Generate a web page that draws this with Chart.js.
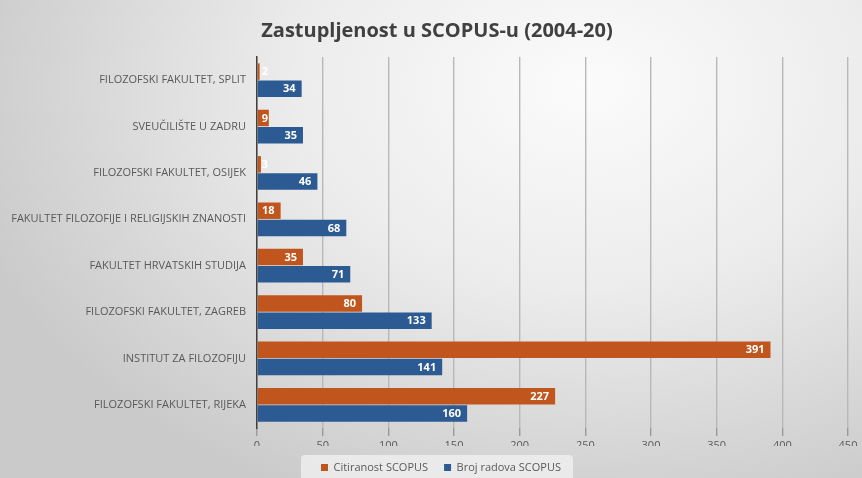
<!DOCTYPE html>
<html>
<head>
<meta charset="utf-8">
<script src="https://cdn.jsdelivr.net/npm/chart.js@4"></script>
<style>
html,body{margin:0;padding:0;}
body{width:862px;height:478px;overflow:hidden;
background:radial-gradient(ellipse 75% 95% at 68% 18%, #fbfbfb 0%, #ececec 45%, #d6d6d6 80%, #cacaca 100%);}
#wrap{position:absolute;left:0;top:0;width:862px;height:478px;}
</style>
</head>
<body>
<div id="wrap"><canvas id="c" width="862" height="478"></canvas></div>
<script>
const categories = [
  "FILOZOFSKI FAKULTET, SPLIT",
  "SVEUČILIŠTE U ZADRU",
  "FILOZOFSKI FAKULTET, OSIJEK",
  "FAKULTET FILOZOFIJE I RELIGIJSKIH ZNANOSTI",
  "FAKULTET HRVATSKIH STUDIJA",
  "FILOZOFSKI FAKULTET, ZAGREB",
  "INSTITUT ZA FILOZOFIJU",
  "FILOZOFSKI FAKULTET, RIJEKA"
];
const citiranost = [2, 9, 3, 18, 35, 80, 391, 227];
const brojRadova = [34, 35, 46, 68, 71, 133, 141, 160];
const seriesNames = ["Citiranost SCOPUS", "Broj radova SCOPUS"];
const xTicks = [0, 50, 100, 150, 200, 250, 300, 350, 400, 450];
const titleText = "Zastupljenost u SCOPUS-u (2004-20)";

const FONT = "'Open Sans', 'Noto Sans', sans-serif";

const labelPlugin = {
  id: 'barLabels',
  afterDatasetsDraw(chart) {
    const ctx = chart.ctx;
    ctx.save();
    ctx.font = "bold 11px " + FONT;
    ctx.fillStyle = "#ffffff";
    ctx.textBaseline = "middle";
    ctx.textAlign = "right";
    chart.data.datasets.forEach((ds, di) => {
      const meta = chart.getDatasetMeta(di);
      meta.data.forEach((bar, i) => {
        const txt = String(ds.data[i]);
        const w = ctx.measureText(txt).width;
        const x = Math.max(bar.x - 6, bar.base + 4 + w);
        ctx.fillText(txt, x, bar.y + 0.5);
      });
    });
    ctx.restore();
  }
};

const LEGEND_SHIFT = 17;
const TITLE_SHIFT = 13;

const shiftPlugin = {
  id: 'shiftBoxes',
  afterLayout(chart) {
    const l = chart.legend;
    if (l) {
      l.left += 2 * LEGEND_SHIFT;
      l.legendHitBoxes.forEach(b => { b.left += LEGEND_SHIFT; });
    }
    const t = chart.titleBlock;
    if (t) { t.left += 2 * TITLE_SHIFT; }
  }
};

const legendBg = {
  id: 'legendBg',
  beforeDraw(chart) {
    const l = chart.legend;
    if (!l || !l.legendHitBoxes || !l.legendHitBoxes.length) return;
    const ctx = chart.ctx;
    let minX = Infinity, maxX = -Infinity;
    l.legendHitBoxes.forEach(b => { minX = Math.min(minX, b.left); maxX = Math.max(maxX, b.left + b.width); });
    const y = l.legendHitBoxes[0].top;
    ctx.save();
    ctx.fillStyle = "rgba(240,240,240,0.8)";
    const x0 = minX - 20, x1 = maxX + 12;
    ctx.beginPath();
    ctx.roundRect(x0, y - 7, x1 - x0, 40, 4);
    ctx.fill();
    ctx.restore();
  }
};

new Chart(document.getElementById('c'), {
  type: 'bar',
  data: {
    labels: categories,
    datasets: [
      { label: seriesNames[0], data: citiranost, backgroundColor: "#C0561E",
        categoryPercentage: 0.74, barPercentage: 0.96 },
      { label: seriesNames[1], data: brojRadova, backgroundColor: "#2C5A92",
        categoryPercentage: 0.74, barPercentage: 0.96 }
    ]
  },
  options: {
    indexAxis: 'y',
    responsive: false,
    animation: false,
    devicePixelRatio: 1,
    layout: { padding: { left: 0, right: 14, top: 0, bottom: -5 } },
    scales: {
      x: {
        min: 0, max: 450,
        afterBuildTicks(scale) { scale.ticks = xTicks.map(v => ({ value: v })); },
        afterFit(scale) { scale.height = 18; },
        ticks: { color: "#595959", font: { family: FONT, size: 11 }, padding: 3 },
        grid: { color: "#b8b8b8", lineWidth: 1.4, drawTicks: true, tickLength: 8, tickColor: "#9a9a9a" },
        border: { display: false }
      },
      y: {
        afterFit(scale) { scale.width = 257; },
        ticks: { color: "#595959", font: { family: FONT, size: 11 }, padding: 11, autoSkip: false },
        grid: { display: false, drawTicks: false },
        border: { display: true, color: "#404040", width: 1.5 }
      }
    },
    plugins: {
      title: {
        display: true, text: titleText, color: "#404040",
        font: { family: FONT, size: 20, weight: 'bold' },
        padding: { top: 19, bottom: 14 }
      },
      legend: {
        position: 'bottom',
        labels: { color: "#595959", font: { family: FONT, size: 11 }, boxWidth: 7, boxHeight: 7, padding: 16 }
      },
      tooltip: { enabled: false }
    }
  },
  plugins: [shiftPlugin, legendBg, labelPlugin]
});
</script>
</body>
</html>
